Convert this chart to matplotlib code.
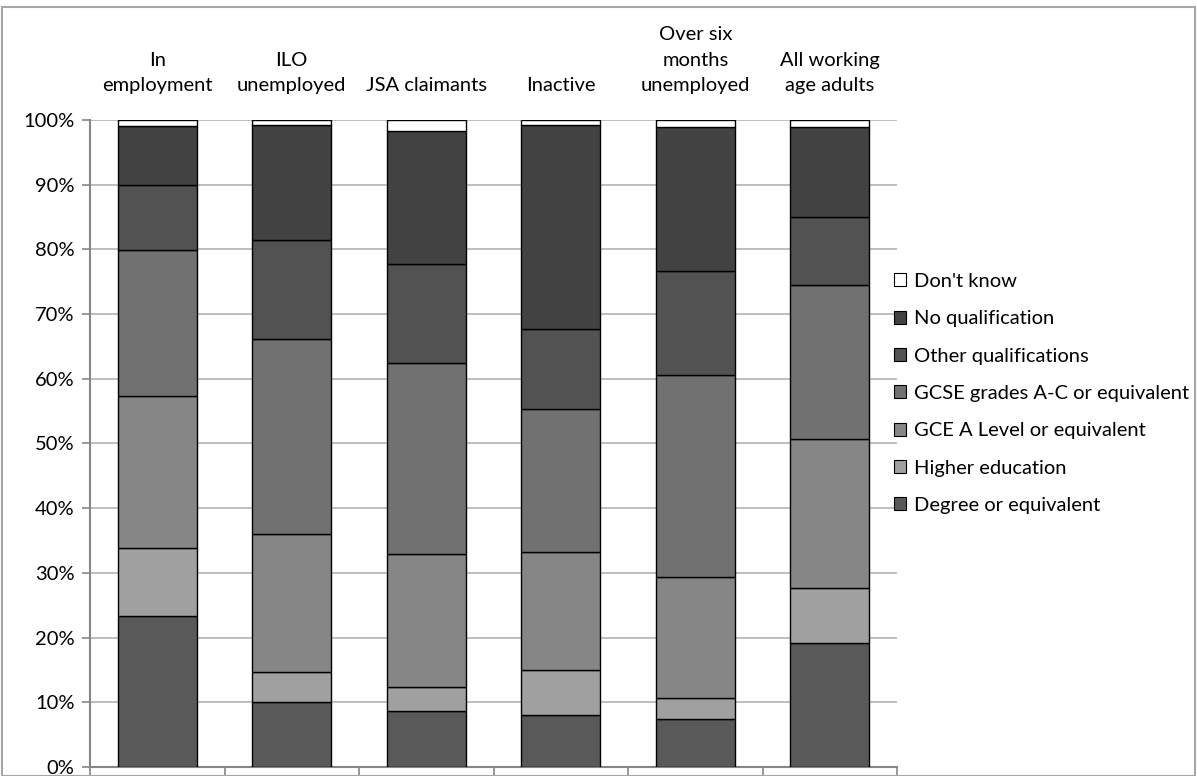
import matplotlib.pyplot as plt
from matplotlib.patches import Rectangle, Patch

plt.rcParams['font.family'] = ['Lato', 'DejaVu Sans']

# Categories and stacked shares (%), bottom segment first
categories = ["In\nemployment", "ILO\nunemployed", "JSA claimants", "Inactive",
              "Over six\nmonths\nunemployed", "All working\nage adults"]
series_names = ["Degree or equivalent", "Higher education", "GCE A Level or equivalent",
                "GCSE grades A-C or equivalent", "Other qualifications",
                "No qualification", "Don't know"]
degree = [23.3, 10.0, 8.7, 8.1, 7.4, 19.1]
higher = [10.5, 4.7, 3.7, 6.9, 3.2, 8.6]
gce = [23.5, 21.3, 20.5, 18.2, 18.7, 23.0]
gcse = [22.6, 30.1, 29.6, 22.2, 31.3, 23.8]
other = [10.0, 15.4, 15.2, 12.3, 16.0, 10.5]
noqual = [9.1, 17.7, 20.6, 31.5, 22.3, 13.9]
dontknow = [1.0, 0.8, 1.7, 0.8, 1.1, 1.1]
yticks = [0, 10, 20, 30, 40, 50, 60, 70, 80, 90, 100]

series = [degree, higher, gce, gcse, other, noqual, dontknow]
colors = ["#595959", "#a0a0a0", "#868686", "#717171", "#525252", "#424242", "#ffffff"]

fs = 14.5

fig = plt.figure(figsize=(11.97, 7.76), dpi=100)
ax = fig.add_axes([0.0752, 0.0116, 0.6742, 0.8338])

x = list(range(len(categories)))
bottom = [0.0] * len(categories)
for vals, col in zip(series, colors):
    ax.bar(x, vals, width=0.587, bottom=bottom, color=col, edgecolor="black",
           linewidth=1.0, zorder=3)
    bottom = [b + v for b, v in zip(bottom, vals)]

ax.set_xlim(-0.5, len(categories) - 0.5)
ax.set_ylim(0, 100)
ax.set_yticks(yticks)
ax.set_yticklabels([f"{t}%" for t in yticks], fontsize=fs)
ax.yaxis.grid(True, color="#b3b3b3", linewidth=1.2, zorder=0)
ax.tick_params(axis="y", length=6, color="#868686", width=1.2, pad=5)

# category boundary ticks at bottom
ax.set_xticks([i - 0.5 for i in range(len(categories) + 1)])
ax.set_xticklabels([])
ax.tick_params(axis="x", length=6, color="#868686", width=1.2)

for s in ["top", "right"]:
    ax.spines[s].set_visible(False)
for s in ["left", "bottom"]:
    ax.spines[s].set_color("#868686")
    ax.spines[s].set_linewidth(1.5)

# category labels above the plot
for i, lab in enumerate(categories):
    ax.text(i, 104.0, lab, ha="center", va="bottom", fontsize=fs,
            linespacing=1.6, transform=ax.transData, clip_on=False)

handles = [Patch(facecolor=c, edgecolor="black", linewidth=0.8) for c in colors]
leg = fig.legend(handles[::-1], series_names[::-1], loc="center left",
                 bbox_to_anchor=(0.7315, 0.493), frameon=False, fontsize=fs,
                 handlelength=0.62, handleheight=0.62, handletextpad=0.4,
                 labelspacing=1.01)

# outer chart border
fig.patches.append(Rectangle((0.002, 0.0), 0.996, 0.991, transform=fig.transFigure,
                             fill=False, edgecolor="#a6a6a6", linewidth=1.5))

fig.savefig("out.png", dpi=100)
